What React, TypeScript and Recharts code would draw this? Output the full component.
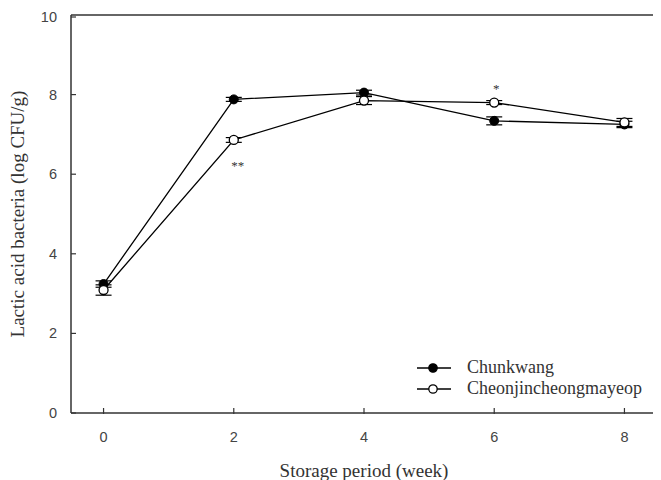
import React from 'react';
import { LineChart, Line, XAxis, YAxis, ErrorBar, ReferenceLine, Legend, LabelList } from 'recharts';

const weeks = [0, 2, 4, 6, 8];
const chunkwang = [3.24, 7.88, 8.05, 7.34, 7.25];
const chunkwangErr = [0.08, 0.05, 0.06, 0.1, 0.08];
const cheonjin = [3.09, 6.86, 7.85, 7.8, 7.3];
const cheonjinErr = [0.13, 0.06, 0.1, 0.05, 0.1];
const cheonjinSig = ['', '**', '', '*', ''];
const xTicks = [0, 2, 4, 6, 8];
const yTicks = [0, 2, 4, 6, 8, 10];

const data = weeks.map((w, i) => ({
  week: w,
  a: chunkwang[i],
  aErr: chunkwangErr[i],
  b: cheonjin[i],
  bErr: cheonjinErr[i],
  sig: cheonjinSig[i],
}));

const AXIS = '#333';
const TICK_FONT = 'Liberation Sans, Arial, sans-serif';
const SERIF = 'Liberation Serif, Times New Roman, serif';

const YTick = (props: any) => {
  const { x, y, payload } = props;
  return (
    <g>
      <line x1={x + 14} x2={x + 19} y1={y} y2={y} stroke={AXIS} strokeWidth={1.2} />
      <text x={x} y={y} dy={5} textAnchor="end" fontFamily={TICK_FONT} fontSize={14.5} fill="#444">
        {payload.value}
      </text>
    </g>
  );
};

const XTick = (props: any) => {
  const { x, y, payload } = props;
  return (
    <g>
      <line x1={x} x2={x} y1={y - 1} y2={y - 7} stroke={AXIS} strokeWidth={1.2} />
      <text x={x} y={y} dy={27} textAnchor="middle" fontFamily={TICK_FONT} fontSize={14.5} fill="#444">
        {payload.value}
      </text>
    </g>
  );
};

const SigLabel = (props: any) => {
  const { x, y, value } = props;
  if (!value) return null;
  const below = value === '**';
  return (
    <text x={x + (below ? 4 : 2)} y={below ? y + 30 : y - 10} textAnchor="middle" fontFamily={SERIF} fontSize={13} fill="#333">
      {value}
    </text>
  );
};

const LegendContent = () => (
  <div style={{ fontFamily: SERIF, fontSize: 18, color: '#333', lineHeight: '21px' }}>
    {[
      { name: 'Chunkwang', fill: '#000' },
      { name: 'Cheonjincheongmayeop', fill: '#fff' },
    ].map((it) => (
      <div key={it.name} style={{ display: 'flex', alignItems: 'center', height: 21 }}>
        <svg width={40} height={20}>
          <line x1={2} x2={36} y1={10} y2={10} stroke="#000" strokeWidth={1.3} />
          <circle cx={18} cy={10} r={4.2} fill={it.fill} stroke="#000" strokeWidth={1.3} />
        </svg>
        <span style={{ marginLeft: 12 }}>{it.name}</span>
      </div>
    ))}
  </div>
);

export default function App() {
  return (
    <LineChart width={653} height={472} data={data} margin={{ top: 7, right: 4, left: 0, bottom: 0 }}>
      <XAxis
        dataKey="week"
        type="number"
        domain={[-0.5, 8.5]}
        ticks={xTicks}
        tick={<XTick />}
        tickLine={false}
        tickSize={0}
        axisLine={{ stroke: AXIS, strokeWidth: 1.5 }}
        height={67}
        label={{
          value: 'Storage period (week)',
          position: 'insideBottom',
          offset: 3,
          style: { fontFamily: SERIF, fontSize: 19, fill: '#333' },
        }}
      />
      <YAxis
        type="number"
        domain={[0, 10]}
        ticks={yTicks}
        tick={<YTick />}
        tickLine={false}
        tickSize={0}
        tickMargin={14}
        axisLine={{ stroke: AXIS, strokeWidth: 1.5 }}
        width={63}
        label={{
          value: 'Lactic acid bacteria (log CFU/g)',
          angle: -90,
          position: 'insideLeft',
          offset: 9,
          style: { fontFamily: SERIF, fontSize: 19, fill: '#333', textAnchor: 'middle' },
        }}
      />
      <ReferenceLine y={10} stroke={AXIS} strokeWidth={1.5} />
      <ReferenceLine x={8.5} stroke={AXIS} strokeWidth={1.5} />
      <Legend
        verticalAlign="middle"
        align="center"
        layout="vertical"
        content={<LegendContent />}
        wrapperStyle={{ left: 407, top: 349, width: 245 }}
      />
      <Line
        dataKey="a"
        stroke="#000"
        strokeWidth={1.3}
        isAnimationActive={false}
        dot={{ r: 4.5, fill: '#000', stroke: '#000', strokeWidth: 1 }}
      >
        <ErrorBar dataKey="aErr" width={8} stroke="#000" strokeWidth={1.2} />
      </Line>
      <Line
        dataKey="b"
        stroke="#000"
        strokeWidth={1.3}
        isAnimationActive={false}
        dot={{ r: 4.5, fill: '#fff', stroke: '#000', strokeWidth: 1.3 }}
      >
        <ErrorBar dataKey="bErr" width={8} stroke="#000" strokeWidth={1.2} />
        <LabelList dataKey="sig" content={<SigLabel />} />
      </Line>
    </LineChart>
  );
}
